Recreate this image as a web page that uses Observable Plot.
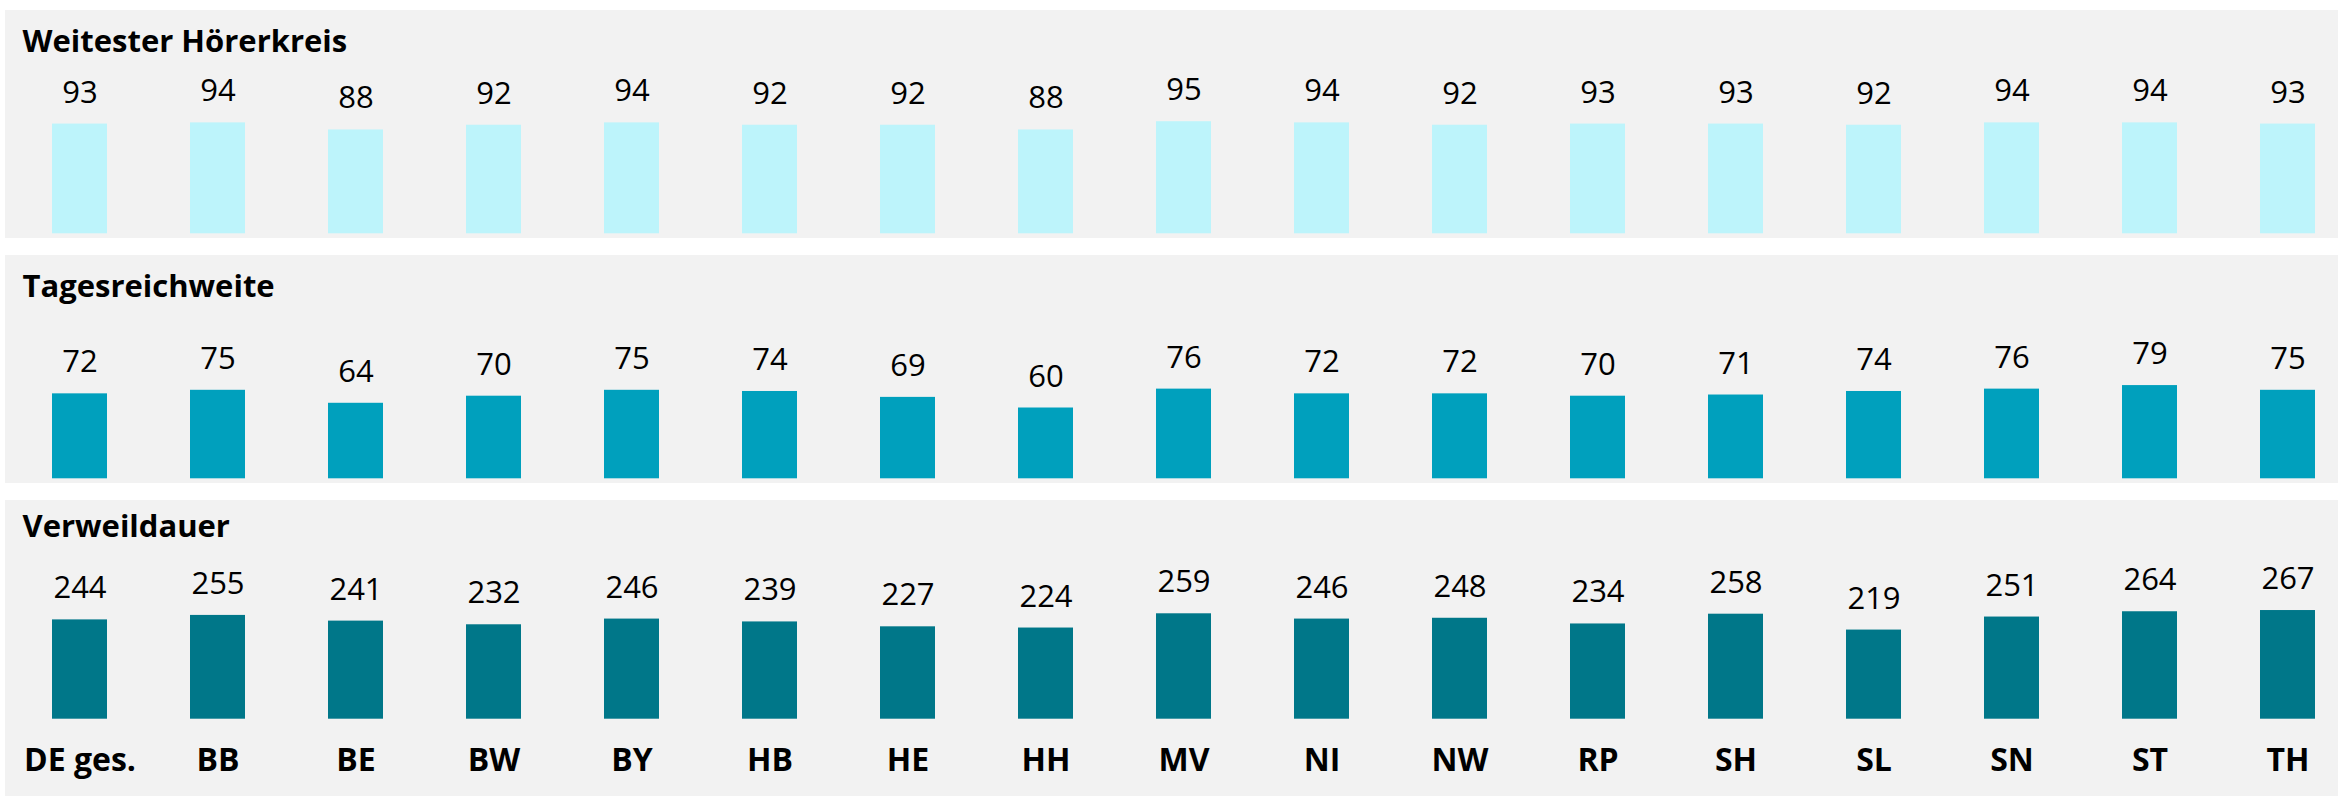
<!DOCTYPE html>
<html>
<head>
<meta charset="utf-8">
<script src="https://cdn.jsdelivr.net/npm/d3@7"></script>
<script src="https://cdn.jsdelivr.net/npm/@observablehq/plot@0.6"></script>
<style>
  html, body { margin: 0; padding: 0; background: #ffffff; }
  #wrap { position: relative; width: 2342px; height: 798px; }
  #wrap svg { position: absolute; left: 5px; }
</style>
</head>
<body>
<div id="wrap"></div>
<script>
const categories = ["DE ges.", "BB", "BE", "BW", "BY", "HB", "HE", "HH", "MV", "NI", "NW", "RP", "SH", "SL", "SN", "ST", "TH"];
const titles = ["Weitester Hörerkreis", "Tagesreichweite", "Verweildauer"];
const weitesterHoererkreis = [93, 94, 88, 92, 94, 92, 92, 88, 95, 94, 92, 93, 93, 92, 94, 94, 93];
const tagesreichweite = [72, 75, 64, 70, 75, 74, 69, 60, 76, 72, 72, 70, 71, 74, 76, 79, 75];
const verweildauer = [244, 255, 241, 232, 246, 239, 227, 224, 259, 246, 248, 234, 258, 219, 251, 264, 267];
const colors = ["#BDF4FB", "#00A0BD", "#007789"];

const FONT = "'Open Sans', sans-serif";
const W = 2333;

const panels = [
  {title: titles[0], values: weitesterHoererkreis, color: colors[0], top: 10, height: 228, yDomain: [0, 100], yRange: [223.3, 105.3], titleY: 41.7, axis: false},
  {title: titles[1], values: tagesreichweite, color: colors[1], top: 255, height: 228, yDomain: [0, 100], yRange: [223.3, 105.3], titleY: 41.7, axis: false},
  {title: titles[2], values: verweildauer, color: colors[2], top: 500, height: 296, yDomain: [0, 300], yRange: [218.7, 96.6], titleY: 36.7, axis: true}
];

const wrap = document.getElementById("wrap");

for (const p of panels) {
  const data = categories.map((c, i) => ({cat: c, value: p.values[i]}));
  const marks = [
    Plot.barY(data, {x: "cat", y: "value", fill: p.color}),
    Plot.text(data, {x: "cat", y: "value", text: d => String(d.value), dy: -21.5, lineAnchor: "bottom", fontSize: 31, fill: "#000"}),
    Plot.text([p.title], {frameAnchor: "top-left", dx: 17, dy: p.titleY, lineAnchor: "bottom", textAnchor: "start", fontSize: 31, fontWeight: "bold", fill: "#000"})
  ];
  if (p.axis) {
    marks.push(Plot.text(categories, {x: d => d, frameAnchor: "top", dy: 270.7, lineAnchor: "bottom", fontSize: 32, fontWeight: "bold", fill: "#000"}));
  }
  const chart = Plot.plot({
    width: W,
    height: p.height,
    marginTop: 0, marginBottom: 0, marginLeft: 0, marginRight: 0,
    style: {background: "#F2F2F2", fontFamily: FONT, overflow: "visible"},
    x: {domain: categories, range: [44, 2313.4], paddingInner: 0.6026, paddingOuter: 0, axis: null},
    y: {domain: p.yDomain, range: p.yRange, axis: null},
    marks
  });
  chart.style.top = p.top + "px";
  wrap.appendChild(chart);
}
</script>
</body>
</html>
